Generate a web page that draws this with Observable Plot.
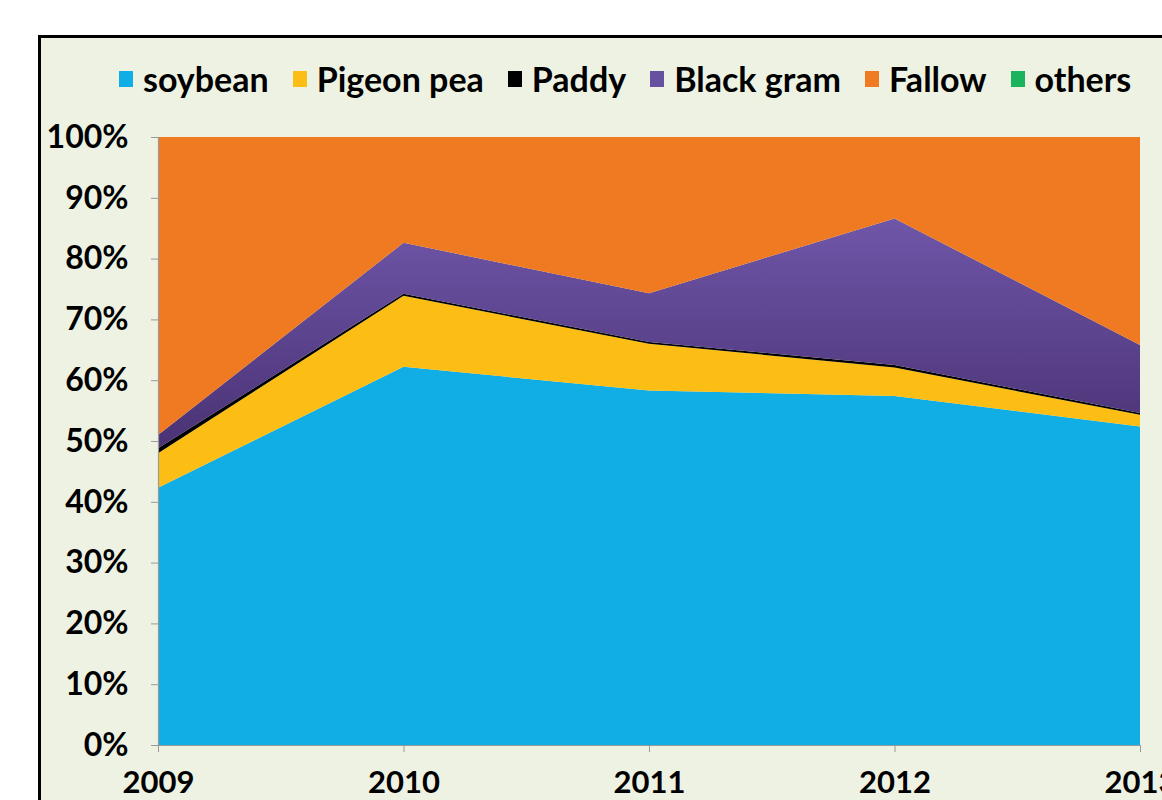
<!DOCTYPE html>
<html><head><meta charset="utf-8">
<script src="https://cdn.jsdelivr.net/npm/d3@7"></script>
<script src="https://cdn.jsdelivr.net/npm/@observablehq/plot@0.6"></script>
<style>
html,body{margin:0;padding:0;background:#fff;overflow:hidden;width:1162px;height:800px}
#frame{position:absolute;left:38px;top:35px;width:1200px;height:800px;border-left:3px solid #000;border-top:3px solid #000;background:#eef2e2}
#legend{position:absolute;left:119px;top:58px;display:flex;align-items:center;gap:24px;font-family:Lato,sans-serif;font-weight:bold;font-size:34px;color:#000;white-space:nowrap}
#legend .item{display:flex;align-items:center}
#legend .sw{width:14px;height:16px;margin-right:10px;display:inline-block}
#chart{position:absolute;left:0;top:0}
</style></head>
<body>
<div id="frame"></div>
<div id="legend"></div>
<div id="chart"></div>
<script>
const years = [2009, 2010, 2011, 2012, 2013];
const crops = ["soybean", "Pigeon pea", "Paddy", "Black gram", "Fallow", "others"];
const soybean   = [42.3, 62.2, 58.3, 57.4, 52.4];
const pigeonPea = [5.7, 11.7, 7.7, 4.7, 1.9];
const paddy     = [0.8, 0.3, 0.3, 0.4, 0.3];
const blackGram = [2.2, 8.4, 8.0, 24.1, 11.2];
const fallow    = [49.0, 17.4, 25.7, 13.4, 34.2];
const others    = [0, 0, 0, 0, 0];
const yTicks = [0, 10, 20, 30, 40, 50, 60, 70, 80, 90, 100];
const colors = ["#10aee4", "#fcbd14", "#000000", "url(#purpleGrad)", "#f07a21", "#1bb35c"];
const legendColors = ["#10aee4", "#fcbd14", "#000000", "#6650a0", "#f07a21", "#1bb35c"];

const series = [soybean, pigeonPea, paddy, blackGram, fallow, others];
const data = [];
crops.forEach((c, i) => years.forEach((y, j) => data.push({crop: c, year: y, value: series[i][j]})));

const legend = document.getElementById("legend");
crops.forEach((c, i) => {
  const it = document.createElement("div"); it.className = "item";
  const sw = document.createElement("span"); sw.className = "sw"; sw.style.background = legendColors[i];
  const tx = document.createElement("span"); tx.textContent = c;
  it.appendChild(sw); it.appendChild(tx); legend.appendChild(it);
});

const plot = Plot.plot({
  width: 1162, height: 800,
  marginLeft: 158, marginRight: 22, marginTop: 137, marginBottom: 55,
  style: {background: "transparent", fontFamily: "Lato, sans-serif", fontWeight: "bold", fontSize: "32px", color: "#000", overflow: "visible"},
  x: {domain: [2009, 2013], label: null},
  y: {domain: [0, 100], label: null},
  color: {domain: crops, range: colors},
  marks: [
    Plot.areaY(data, {x: "year", y: "value", z: "crop", fill: "crop", order: crops}),
    Plot.ruleY([0], {stroke: "#9a9a9a", strokeWidth: 1.2}),
    Plot.ruleX([2009], {stroke: "#9a9a9a", strokeWidth: 1.2}),
    Plot.axisX({ticks: years, tickSize: 7, tickFormat: () => "", color: "#9a9a9a"}),
    Plot.axisX({ticks: years, tickSize: 0, tickPadding: 25, fontSize: 31, tickFormat: d => String(d), color: "#000"}),
    Plot.axisY({ticks: yTicks, tickSize: 7, tickFormat: () => "", color: "#9a9a9a"}),
    Plot.axisY({ticks: yTicks, tickSize: 0, tickPadding: 30, tickFormat: d => d + "%", color: "#000"})
  ]
});
const ns = "http://www.w3.org/2000/svg";
const defs = document.createElementNS(ns, "defs");
defs.innerHTML = '<linearGradient id="purpleGrad" x1="0" y1="0" x2="0" y2="1"><stop offset="0" stop-color="#6f56a8"/><stop offset="1" stop-color="#4a3275"/></linearGradient>';
plot.insertBefore(defs, plot.firstChild);
document.getElementById("chart").appendChild(plot);
</script>
</body></html>
